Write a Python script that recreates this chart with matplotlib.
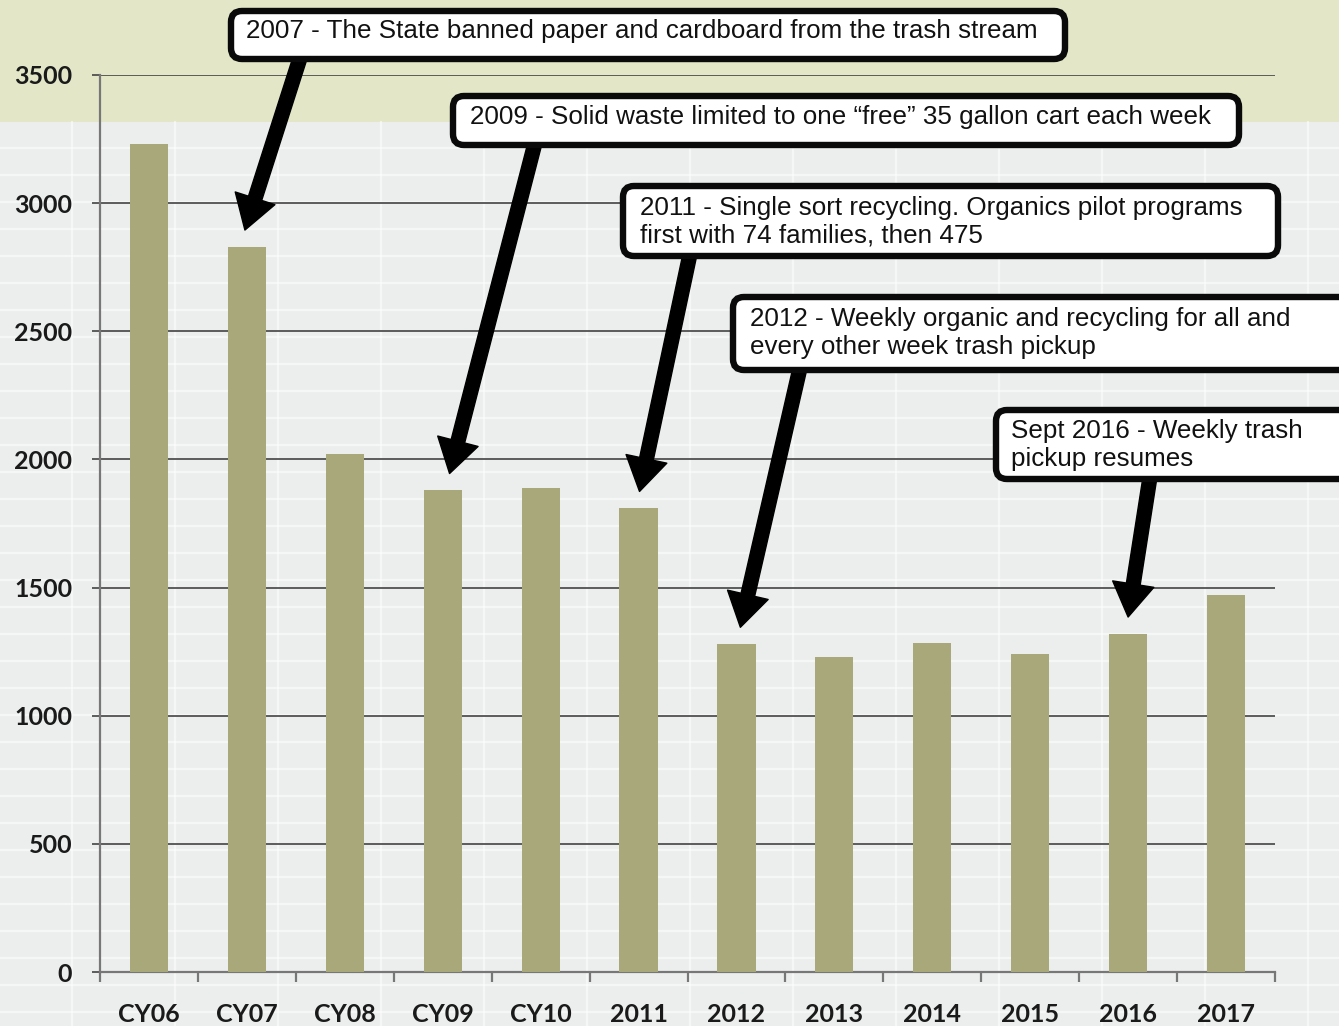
import matplotlib
matplotlib.use("Agg")
import matplotlib.pyplot as plt
from matplotlib.patches import FancyBboxPatch, Rectangle
from matplotlib.lines import Line2D

# ---------------- data ----------------
categories = ["CY06", "CY07", "CY08", "CY09", "CY10", "2011",
              "2012", "2013", "2014", "2015", "2016", "2017"]
values = [3230, 2830, 2020, 1880, 1890, 1810, 1280, 1230, 1285, 1240, 1320, 1470]
yticks = [0, 500, 1000, 1500, 2000, 2500, 3000, 3500]

notes = [
    "2007 - The State banned paper and cardboard from the trash stream",
    "2009 - Solid waste limited to one \u201cfree\u201d 35 gallon cart each week",
    "2011 - Single sort recycling. Organics pilot programs\nfirst with 74 families, then 475",
    "2012 - Weekly organic and recycling for all and\nevery other week trash pickup",
    "Sept 2016 - Weekly trash\npickup resumes",
]
note_bar = [1, 3, 5, 6, 10]          # bar each note points to
note_tip_dx = [-0.02, 0.07, 0.01, 0.04, 0.0]

# ---------------- figure ----------------
W, H = 1339, 1026
fig = plt.figure(figsize=(W / 100, H / 100), dpi=100)
fig.patch.set_facecolor("#eceeee")

def inch(px, py):
    return px / 100, (H - py) / 100

# top greenish band
fig.add_artist(Rectangle((0, (H - 122) / H), 1, 122 / H, transform=fig.transFigure,
                         facecolor="#e3e7c7", edgecolor="none", zorder=-10))
# faint spreadsheet-like texture
for yy in range(148, H, 27):
    fig.add_artist(Line2D([0, 1], [(H - yy) / H] * 2, transform=fig.transFigure,
                          color="white", lw=1.6, alpha=0.5, zorder=-9))
for xx in range(72, W, 103):
    fig.add_artist(Line2D([xx / W] * 2, [0, (H - 122) / H], transform=fig.transFigure,
                          color="white", lw=1.6, alpha=0.5, zorder=-9))

ax = fig.add_axes([100 / W, (H - 972) / H, 1175 / W, 897 / H])
ax.set_facecolor("none")

x = list(range(len(categories)))
ax.bar(x, values, width=0.39, color="#a8a87b", zorder=3)

ax.set_xlim(-0.5, len(categories) - 0.5)
ax.set_ylim(0, 3500)
ax.set_yticks(yticks)
ax.set_xticks(x)
ax.set_xticklabels(categories)
ax.set_xticks([i + 0.5 for i in range(-1, len(categories))], minor=True)

ax.grid(axis="y", color="#505050", lw=1.3, zorder=1)
ax.grid(axis="x", visible=False)

for s in ["top", "right"]:
    ax.spines[s].set_visible(False)
for s in ["left", "bottom"]:
    ax.spines[s].set_color("#777777")
    ax.spines[s].set_linewidth(1.6)

ax.tick_params(axis="y", length=6, width=1.3, color="#505050", pad=14,
               labelsize=18, labelcolor="#1a1a1a")
ax.tick_params(axis="x", which="major", length=0, pad=22,
               labelsize=18, labelcolor="#1a1a1a")
ax.tick_params(axis="x", which="minor", length=7, width=1.6, color="#777777")
for lab in ax.get_xticklabels() + ax.get_yticklabels():
    lab.set_fontfamily("Lato")
    lab.set_fontweight("bold")

# ---------------- annotations ----------------
# box outlines in pixels (left, top, right, bottom), text anchor (left, center y), arrow start
boxes = [
    (231, 11, 1065, 59),
    (453, 96, 1239, 145),
    (623, 186, 1278, 256),
    (733, 297, 1360, 370),
    (996, 410, 1360, 479),
]
text_pos = [(246, 31), (470, 117), (640, 222), (750, 333), (1011, 445)]
arrow_start = [(300, 58), (535, 143), (690, 254), (800, 368), (1150, 477)]

for (l, t, r, b), (tx, ty), txt, (sx, sy), bi, dx in zip(
        boxes, text_pos, notes, arrow_start, note_bar, note_tip_dx):
    ax.annotate("", xy=(bi + dx, values[bi] + 65), xycoords="data",
                xytext=inch(sx, sy), textcoords=fig.dpi_scale_trans,
                annotation_clip=False,
                arrowprops=dict(arrowstyle="simple,head_length=2.4,head_width=3.0,tail_width=1.0",
                                mutation_scale=10, fc="black", ec="black", lw=1,
                                shrinkA=0, shrinkB=0))
    x0, y0 = inch(l, b)
    x1, y1 = inch(r, t)
    fig.add_artist(FancyBboxPatch((x0, y0), x1 - x0, y1 - y0,
                                  boxstyle="round,pad=0,rounding_size=0.11",
                                  transform=fig.dpi_scale_trans,
                                  facecolor="white", edgecolor="#0a0a0a",
                                  lw=4.6, zorder=20))
    fig.text(*inch(tx, ty), txt, transform=fig.dpi_scale_trans, ha="left", va="center",
             fontsize=18.7, family="Liberation Sans", color="#111111",
             linespacing=1.19, zorder=21)

fig.savefig("out.png", dpi=100, facecolor=fig.get_facecolor())
